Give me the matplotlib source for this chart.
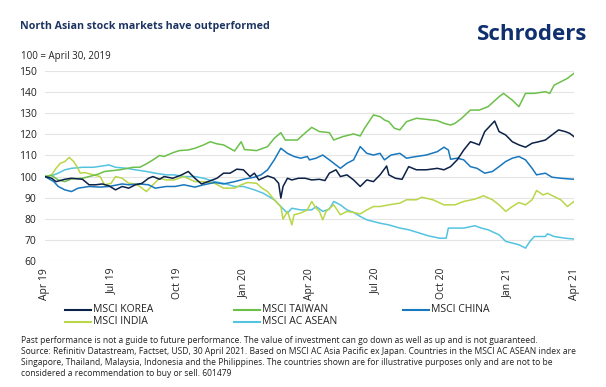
import matplotlib
matplotlib.use("Agg")
import matplotlib.pyplot as plt
from matplotlib.lines import Line2D
import numpy as np

plt.rcParams['font.family'] = ['Open Sans', 'DejaVu Sans']

W, H = 606, 387

# ---- data (months since 30 Apr 2019, index level) ----
korea_m = [0, 0.3, 0.5, 0.9, 1.2, 1.7, 2.0, 2.3, 2.6, 2.9, 3.2, 3.5, 3.8, 4.1, 4.4, 4.7, 4.9, 5.2, 5.4, 5.8,
           6.2, 6.5, 6.8, 7.1, 7.4, 7.8, 8.1, 8.4, 8.7, 9.0, 9.3, 9.5, 9.7, 10.1, 10.4, 10.6, 10.7, 10.8, 11.0,
           11.2, 11.5, 11.8, 12.1, 12.45, 12.7, 12.9, 13.2, 13.4, 13.7, 14.0, 14.3, 14.6, 14.9, 15.2, 15.5,
           15.6, 15.9, 16.2, 16.5, 16.85, 17.3, 17.8, 18.1, 18.4, 18.7, 19.0, 19.3, 19.5, 19.7, 19.95, 20.3,
           20.4, 20.6, 20.9, 21.2, 21.5, 21.8, 22.1, 22.4, 22.7, 23.0, 23.3, 23.6, 23.8, 24.0]
korea_v = [100, 99.2, 97.6, 98.7, 99.2, 98.7, 96.1, 96.1, 96.5, 95.6, 93.7, 95.3, 94.5, 96.1, 96.8, 99.2, 100,
           98.7, 100, 99.2, 100.8, 102.4, 99.2, 96.5, 97.6, 99.2, 101.6, 101.6, 103.5, 103.2, 100, 101.6, 98.4,
           100.3, 99.2, 96.8, 89.8, 95.3, 99.2, 98.4, 99.2, 99.2, 98.4, 98.7, 98.1, 101.6, 103.2, 100, 100.8,
           98.4, 95.3, 98.4, 97.6, 100.8, 105, 100.8, 99.2, 98.7, 104.7, 103.2, 103.2, 103.9, 103.2, 104.7,
           107.9, 112.6, 116.5, 115.8, 115, 121.3, 125.2, 126.3, 121.3, 119.7, 116.5, 115, 113.9, 115.8, 116.5,
           117.3, 119.7, 122.1, 121.3, 120.5, 118.9]

taiwan_m = [0, 0.3, 0.6, 0.9, 1.2, 1.7, 2.0, 2.4, 2.7, 3.4, 4.0, 4.3, 4.6, 4.9, 5.2, 5.4, 5.8, 6.1, 6.5, 6.8,
            7.2, 7.5, 7.8, 8.1, 8.6, 8.9, 9.05, 9.6, 10.1, 10.4, 10.7, 10.9, 11.45, 11.7, 12.1, 12.45, 12.9,
            13.1, 13.5, 14.0, 14.3, 14.5, 14.9, 15.2, 15.4, 15.6, 15.85, 16.1, 16.4, 16.85, 17.3, 17.8, 18.1,
            18.4, 18.6, 18.9, 19.3, 19.7, 20.1, 20.6, 20.8, 21.2, 21.5, 21.8, 22.2, 22.7, 22.9, 23.1, 23.4,
            23.7, 24.0]
taiwan_v = [100, 100.5, 98.4, 97.6, 98.9, 99.2, 100, 101.1, 102.4, 103.2, 104.4, 104.4, 106, 107.9, 110,
            109.5, 111.3, 112.3, 112.6, 113.4, 115, 116.5, 115.5, 115, 112.1, 116.5, 112.8, 112.3, 114.2,
            118.1, 120.8, 117.3, 117.3, 119.7, 123.3, 121.3, 120.8, 117.3, 118.9, 120.2, 119.2, 122.9, 129.2,
            128.4, 126.8, 126, 122.9, 122.1, 126, 127.6, 127.1, 126.5, 125.2, 124.4, 125.2, 127.6, 131.5,
            131.5, 133.1, 137.8, 139.4, 136.2, 133.1, 139.4, 139.4, 140.2, 139.4, 143.3, 144.9, 146.5, 148.9]

china_m = [0, 0.4, 0.6, 0.9, 1.2, 1.5, 2.0, 2.5, 2.9, 3.5, 3.8, 4.3, 4.7, 5.0, 5.5, 5.9, 6.3, 6.8, 7.2, 7.7,
           8.1, 8.6, 9.0, 9.5, 9.8, 10.1, 10.4, 10.7, 11.0, 11.3, 11.6, 11.9, 12.0, 12.3, 12.6, 12.9, 13.4,
           13.7, 14.0, 14.3, 14.6, 14.9, 15.2, 15.4, 15.7, 16.1, 16.4, 16.85, 17.3, 17.8, 18.1, 18.3, 18.4,
           18.7, 19.0, 19.3, 19.6, 19.95, 20.3, 20.6, 20.9, 21.2, 21.5, 21.8, 22.1, 22.3, 22.7, 23.0, 23.4, 24.0]
china_v = [100, 97.6, 95.3, 93.7, 92.9, 94.5, 95.3, 95.0, 95.3, 96.5, 96.1, 96.5, 96.1, 94.5, 95.3, 95.3,
           96.1, 95.0, 96.1, 97.2, 96.5, 97.6, 98.7, 99.7, 100.8, 103.2, 107.9, 113.4, 111.0, 109.5, 108.7,
           109.5, 107.9, 108.7, 110.2, 107.9, 103.9, 106.3, 107.9, 114.2, 111.0, 110.2, 111.0, 107.9, 110.2,
           111.0, 108.7, 109.5, 110.2, 111.8, 113.9, 112.6, 108.2, 108.7, 107.9, 104.7, 103.9, 101.6, 102.4,
           104.7, 107.1, 108.7, 109.5, 107.9, 103.9, 100.8, 101.6, 99.7, 99.2, 98.7]

india_m = [0, 0.3, 0.5, 0.7, 0.9, 1.1, 1.3, 1.45, 1.6, 1.8, 2.2, 2.5, 2.7, 3.0, 3.2, 3.5, 3.8, 4.1, 4.3, 4.6,
           4.9, 5.2, 5.5, 5.86, 6.3, 6.8, 7.2, 7.7, 8.1, 8.6, 8.9, 9.2, 9.6, 9.85, 10.1, 10.4, 10.7, 10.8, 11.0,
           11.1, 11.2, 11.3, 11.6, 11.9, 12.1, 12.3, 12.45, 12.6, 12.75, 13.1, 13.4, 13.7, 14.0, 14.3, 14.6,
           14.9, 15.2, 15.6, 16.1, 16.4, 16.85, 17.1, 17.6, 18.1, 18.6, 19.0, 19.5, 19.9, 20.3, 20.6, 20.9,
           21.2, 21.5, 21.8, 22.1, 22.3, 22.6, 22.8, 23.1, 23.4, 23.7, 24.0]
india_v = [100, 100.8, 103.9, 106.3, 107.1, 109.1, 107.1, 104.7, 101.6, 101.9, 100.8, 100, 96.1, 96.8, 100,
           99.2, 96.8, 96.5, 95.3, 92.9, 96.1, 99.2, 98.4, 98.4, 100, 97.6, 97.6, 96.8, 94.5, 94.5, 96.1, 97.2,
           96.8, 94.5, 92.9, 89, 85.8, 79.8, 83.5, 80.3, 77.1, 81.9, 82.7, 84.2, 88.2, 85.0, 83.5, 79.5, 83.5,
           86.6, 81.9, 83.5, 83, 82.3, 84.2, 85.8, 85.8, 86.6, 87.4, 89, 89, 90.2, 89, 86.6, 86.6, 88.2, 89.3,
           90.9, 89, 86.6, 83.5, 85.8, 87.7, 86.6, 89, 93.4, 91.3, 92.1, 90.5, 89, 85.8, 88.2]

asean_m = [0, 0.4, 0.6, 0.9, 1.2, 1.7, 2.2, 2.6, 2.9, 3.2, 3.7, 4.1, 4.6, 5.0, 5.5, 5.86, 6.3, 6.8, 7.2, 7.7,
           8.1, 8.6, 9.0, 9.5, 9.9, 10.4, 10.7, 11.0, 11.2, 11.6, 12.1, 12.3, 12.6, 12.9, 13.1, 13.4, 13.7,
           14.0, 14.3, 14.6, 14.9, 15.2, 15.6, 16.1, 16.5, 17.0, 17.4, 17.9, 18.2, 18.3, 18.6, 19.0, 19.5,
           19.8, 20.1, 20.6, 20.9, 21.2, 21.5, 21.8, 22.0, 22.2, 22.7, 22.8, 23.1, 23.6, 24.0]
asean_v = [100, 100.8, 101.6, 103.2, 103.9, 104.4, 104.4, 105, 105.5, 104.4, 103.9, 103.2, 102.4, 101.6,
           100.8, 100.8, 100, 100, 99.2, 97.6, 96.8, 95.3, 95.3, 93.7, 92.1, 89, 85.8, 82.7, 85.0, 84.2, 84.2,
           85.8, 83.5, 84.6, 88.2, 86.6, 84.2, 83, 81.1, 79.5, 78.7, 77.9, 77.1, 75.6, 74.8, 73.2, 71.9, 70.8,
           70.8, 75.6, 75.6, 75.6, 76.7, 75.6, 74.8, 72.4, 69.3, 68.5, 67.7, 66.1, 69.3, 71.6, 71.6, 72.9, 71.6,
           70.8, 70.4]

series_names = ["MSCI KOREA", "MSCI TAIWAN", "MSCI CHINA", "MSCI INDIA", "MSCI AC ASEAN"]
series_colors = ["#0c2147", "#6cc04a", "#1877bd", "#b9d648", "#53c3e0"]

tick_pos = [0, 3, 6, 9, 12, 15, 18, 21, 24]
tick_labels = ["Apr 19", "Jul 19", "Oct 19", "Jan 20", "Apr 20", "Jul 20", "Oct 20", "Jan 21", "Apr 21"]
y_ticks = [60, 70, 80, 90, 100, 110, 120, 130, 140, 150]

title = "North Asian stock markets have outperformed"
subtitle = "100 = April 30, 2019"
footnote = ("Past performance is not a guide to future performance. The value of investment can go down as well as up and is not guaranteed.\n"
            "Source: Refinitiv Datastream, Factset, USD, 30 April 2021. Based on MSCI AC Asia Pacific ex Japan. Countries in the MSCI AC ASEAN index are\n"
            "Singapore, Thailand, Malaysia, Indonesia and the Philippines. The countries shown are for illustrative purposes only and are not to be\n"
            "considered a recommendation to buy or sell. 601479")

# ---- figure ----
fig = plt.figure(figsize=(W / 100, H / 100), dpi=100)
fig.patch.set_facecolor("white")

def fx(x):
    return x / W

def fy(y):
    return 1 - y / H

ax_l, ax_r, ax_t, ax_b = 45, 574, 71, 261
ax = fig.add_axes([fx(ax_l), fy(ax_b), (ax_r - ax_l) / W, (ax_b - ax_t) / H])

data = [(korea_m, korea_v), (taiwan_m, taiwan_v), (china_m, china_v), (india_m, india_v), (asean_m, asean_v)]
for i in [4, 3, 2, 1, 0]:
    m, v = data[i]
    ax.plot(m, v, color=series_colors[i], lw=1.1, solid_joinstyle="round", zorder=3 + (4 - i) * 0.1)

ax.set_xlim(0, 24)
ax.set_ylim(60, 150)
ax.set_yticks(y_ticks)
ax.set_xticks(tick_pos)
ax.set_xticklabels(tick_labels, rotation=90, fontsize=7.5, color="#222222")
ax.tick_params(axis="both", length=0, labelsize=7.5, colors="#222222")
ax.tick_params(axis="y", pad=6)
ax.tick_params(axis="x", pad=5)
ax.grid(axis="y", color="#e4e4e4", lw=0.8)
ax.set_axisbelow(True)
for s in ax.spines.values():
    s.set_visible(False)

# ---- texts ----
fig.text(fx(20), fy(26), title, fontsize=7.7, fontweight="bold", color="#1c3461", va="center", ha="left")
fig.text(fx(587), fy(34), "Schroders", fontsize=16, fontweight="bold", color="#0f2f6e", va="center", ha="right")
fig.text(fx(21), fy(56), subtitle, fontsize=7, color="#222222", va="center", ha="left")

# ---- legend ----
leg_pos = [(65, 310), (234, 310), (403, 310), (65, 322), (234, 322)]
for i, (lx, ly) in enumerate(leg_pos):
    fig.add_artist(Line2D([fx(lx), fx(lx + 26)], [fy(ly), fy(ly)], transform=fig.transFigure,
                          color=series_colors[i], lw=1.5))
    fig.text(fx(lx + 28), fy(ly), series_names[i], fontsize=7.5, color="#222222", va="center", ha="left")

fig.text(fx(21), fy(336), footnote, fontsize=6.15, color="#222222", va="top", ha="left", linespacing=1.3)

fig.savefig("out.png", dpi=100, facecolor="white")
